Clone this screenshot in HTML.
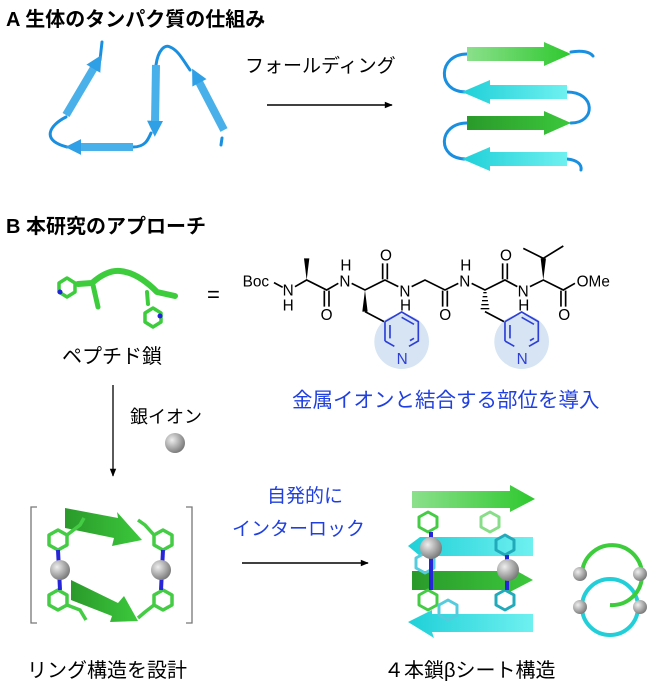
<!DOCTYPE html>
<html><head><meta charset="utf-8"><style>
html,body{margin:0;padding:0;background:#fff;}
svg{display:block;font-family:"Liberation Sans","Noto Sans CJK JP",sans-serif;}
</style></head><body>
<svg width="650" height="683" viewBox="0 0 650 683" xmlns="http://www.w3.org/2000/svg">
<defs>
<linearGradient id="gG" x1="0" x2="1"><stop offset="0" stop-color="#8be08b"/><stop offset="1" stop-color="#2ec82e"/></linearGradient>
<linearGradient id="gC" x1="0" x2="1"><stop offset="0" stop-color="#1fd0d8"/><stop offset="1" stop-color="#6ff0f0"/></linearGradient>
<linearGradient id="gD" x1="0" x2="1"><stop offset="0" stop-color="#2a9a2a"/><stop offset="1" stop-color="#3cc83c"/></linearGradient>
<linearGradient id="gB" x1="0" x2="1"><stop offset="0" stop-color="#2f9fe6"/><stop offset="1" stop-color="#7fcdf2"/></linearGradient>
<radialGradient id="sp" cx="0.35" cy="0.35" r="0.7"><stop offset="0" stop-color="#eee"/><stop offset="1" stop-color="#777"/></radialGradient>
<marker id="bh" viewBox="0 0 10 10" refX="2" refY="5" markerWidth="2" markerHeight="2" orient="auto"><path d="M0,0 L10,5 L0,10 z" fill="#2f9fe6"/></marker>
<marker id="ah" viewBox="0 0 10 10" refX="9" refY="5" markerWidth="10" markerHeight="8" markerUnits="userSpaceOnUse" orient="auto"><path d="M0,1 L10,5 L0,9 z" fill="#000"/></marker>
</defs>

<text x="6" y="26" font-size="20" font-weight="bold">A 生体のタンパク質の仕組み</text>
<text x="6" y="233" font-size="20" font-weight="bold">B 本研究のアプローチ</text>

<g fill="none" stroke="#1a8fe0" stroke-width="3" stroke-linecap="round">
<path d="M66,117 C50,125 40,140 67,147"/>
<path d="M133,147 C145,147 148,140 151,133"/>
<path d="M156,65 C158,50 165,44 170,47 C178,50 183,60 190,70"/>
<path d="M100,60 L102,42"/>
<path d="M222,138 L221,145"/>
</g>
<g stroke="#4ab0ea" stroke-width="8" marker-end="url(#bh)">
<line x1="66" y1="115" x2="95" y2="66"/>
<line x1="133" y1="147" x2="78" y2="147"/>
<line x1="156" y1="65" x2="155" y2="124"/>
<line x1="224" y1="130" x2="198" y2="80"/>
</g>

<text x="245" y="72" font-size="19">フォールディング</text>
<line x1="267" y1="105" x2="392" y2="105" stroke="#000" stroke-width="1.5" marker-end="url(#ah)"/>

<g fill="none" stroke="#1a8fe0" stroke-width="3" stroke-linecap="round">
<path d="M467,54 C438,54 436,92 466,92"/>
<path d="M567,92 C596,92 596,123 571,123"/>
<path d="M467,123 C438,123 436,159 466,159"/>
<path d="M571,52 C582,50 590,52 593,56"/>
<path d="M567,159 C578,160 582,165 581,170"/>
</g>
<polygon points="467,47 544,47 544,42 571,54 544,66 544,61 467,61" fill="url(#gG)"/>
<polygon points="567,85 490,85 490,80 462,92 490,104 490,99 567,99" fill="url(#gC)"/>
<polygon points="467,116 544,116 544,111 571,123 544,135 544,130 467,130" fill="url(#gD)"/>
<polygon points="567,152 490,152 490,147 462,159 490,171 490,166 567,166" fill="url(#gC)"/>

<g fill="none" stroke="#3ccc3c" stroke-linecap="round" stroke-linejoin="round">
<path d="M78,284 L92,283 C100,276 110,270 120,271 C132,272 145,280 157,292 L175,296" stroke-width="6"/>
<path d="M93,285 L98,307" stroke-width="5"/>
<path d="M147,292 L148,304" stroke-width="4"/>
<polygon points="67,278 75,283 75,292 67,297 59,292 59,283" stroke-width="3.5"/>
<polygon points="153,308 161,313 161,322 153,327 145,322 145,313" stroke-width="3.5"/>
</g>
<circle cx="60" cy="292" r="2.5" fill="#2222dd"/><circle cx="160" cy="316" r="2.5" fill="#2222dd"/>
<text x="62" y="363" font-size="20">ペプチド鎖</text>
<text x="207" y="302" font-size="22">=</text>

<g transform="translate(230,240) scale(0.3333)">
<circle cx="515" cy="305" r="82" fill="#d6e4f3"/>
<circle cx="875" cy="305" r="82" fill="#d6e4f3"/>
<g stroke="#000" stroke-width="5" fill="none">
<path d="M132,128 L158,142"/>
<path d="M195,140 L230,120 L290,150 L325,130"/>
<path d="M365,130 L405,150 L465,120 L505,140"/>
<path d="M545,140 L585,120 L645,150 L685,130"/>
<path d="M725,130 L765,150 L825,120 L862,140"/>
<path d="M900,140 L940,120 L1000,150 L1035,130"/>
<path d="M283,152 L283,200 M297,152 L297,200"/>
<path d="M458,118 L458,70 M472,118 L472,70"/>
<path d="M638,152 L638,200 M652,152 L652,200"/>
<path d="M818,118 L818,70 M832,118 L832,70"/>
<path d="M993,152 L993,200 M1007,152 L1007,200"/>
<path d="M940,55 L880,25 M940,55 L1000,18"/>
<path d="M405,215 L462,245"/>
<path d="M765,215 L822,245"/>
</g>
<polygon points="230,120 222,55 238,55" fill="#000"/>
<polygon points="405,150 397,215 413,215" fill="#000"/>
<polygon points="940,120 932,55 948,55" fill="#000"/>
<g stroke="#000" stroke-width="4">
<line x1="760" y1="158" x2="770" y2="158"/><line x1="758" y1="170" x2="772" y2="170"/><line x1="756" y1="182" x2="774" y2="182"/><line x1="754" y1="194" x2="776" y2="194"/><line x1="752" y1="206" x2="778" y2="206"/>
</g>
<g stroke="#2d3fd8" stroke-width="5" fill="none">
<path d="M465,245 L515,216 L565,245 L565,303 L537,319 M493,319 L465,303 Z M465,245 L465,303"/>
<path d="M480,255 L480,295 M515,232 L552,253 M552,295 L540,302"/>
<path d="M825,245 L875,216 L925,245 L925,303 L897,319 M853,319 L825,303 M825,245 L825,303"/>
<path d="M840,255 L840,295 M875,232 L912,253 M912,295 L900,302"/>
</g>
<g font-size="46" fill="#000">
<text x="38" y="140">Boc</text>
<text x="158" y="167">N</text><text x="158" y="212">H</text>
<text x="328" y="139">N</text><text x="331" y="92">H</text>
<text x="508" y="169">N</text><text x="510" y="212">H</text>
<text x="688" y="139">N</text><text x="691" y="92">H</text>
<text x="863" y="169">N</text><text x="865" y="212">H</text>
<text x="272" y="240">O</text><text x="450" y="62">O</text><text x="628" y="240">O</text><text x="810" y="62">O</text><text x="985" y="240">O</text>
<text x="1040" y="140">OMe</text>
</g>
<text x="500" y="372" font-size="46" fill="#2d3fd8">N</text>
<text x="860" y="372" font-size="46" fill="#2d3fd8">N</text>
</g>
<text x="292" y="407" font-size="20.5" fill="#1f3fe0">金属イオンと結合する部位を導入</text>

<line x1="113" y1="385" x2="113" y2="476" stroke="#000" stroke-width="1.3" marker-end="url(#ah)"/>
<text x="130" y="423" font-size="18">銀イオン</text>
<circle cx="175" cy="443" r="10" fill="url(#sp)"/>

<path d="M37,507 L31,507 L31,623 L37,623 M186,507 L192,507 L192,623 L186,623" fill="none" stroke="#777" stroke-width="1.3"/>
<polygon points="65,508 118,518 117,512 142,540 112,546 114,538 65,528" fill="url(#gD)"/>
<polygon points="71,580 71,600 112,616 110,622 138,621 124,596 118,603" fill="url(#gD)"/>
<g fill="none" stroke="#44cc44" stroke-width="3.5" stroke-linejoin="round">
<polygon points="58,530 67,535 67,545 58,550 49,545 49,535"/>
<polygon points="58,590 67,595 67,605 58,610 49,605 49,595"/>
<polygon points="163,530 172,535 172,545 163,550 154,545 154,535"/>
<polygon points="163,590 172,595 172,605 163,610 154,605 154,595"/>
<path d="M67,535 L80,525 L84,518 M67,605 L80,610 L86,620 M154,535 L145,525 L138,520 M154,605 L145,612 L138,618"/>
</g>
<g stroke="#2626d8" stroke-width="4"><line x1="58" y1="550" x2="60" y2="590"/><line x1="163" y1="550" x2="161" y2="590"/></g>
<circle cx="60" cy="570" r="10" fill="url(#sp)"/>
<circle cx="161" cy="570" r="10" fill="url(#sp)"/>
<text x="27" y="677" font-size="20">リング構造を設計</text>

<text x="267" y="502" font-size="19" fill="#1f3fe0">自発的に</text>
<text x="232" y="535" font-size="19" fill="#1f3fe0">インターロック</text>
<line x1="242" y1="563" x2="368" y2="563" stroke="#000" stroke-width="1.5" marker-end="url(#ah)"/>

<polygon points="412,491 510,491 510,485 535,499 510,512 510,508 412,508" fill="url(#gG)"/>
<polygon points="533,537 533,556 420,556 408,546 420,537" fill="url(#gC)"/>
<polygon points="412,571 508,571 508,566 533,580 508,593 508,590 412,590" fill="url(#gD)"/>
<polygon points="533,614 533,632 432,632 434,638 408,622 432,610 432,614" fill="url(#gC)"/>
<g fill="none" stroke-width="3" stroke-linejoin="round">
<polygon points="428,512 437,517 437,527 428,532 419,527 419,517" stroke="#44cc44"/>
<polygon points="428,590 437,595 437,605 428,610 419,605 419,595" stroke="#44cc44"/>
<polygon points="490,512 499,517 499,527 490,532 481,527 481,517" stroke="#88dd88"/>
<polygon points="505,535 514,540 514,550 505,555 496,550 496,540" stroke="#22aabb"/>
<polygon points="505,590 514,595 514,605 505,610 496,605 496,595" stroke="#22aabb"/>
<polygon points="448,600 457,605 457,615 448,620 439,615 439,605" stroke="#55ccdd"/>
<polygon points="425,553 434,558 434,568 425,573 416,568 416,558" stroke="#55ccdd"/>
</g>
<g stroke="#2626d8" stroke-width="4"><line x1="431" y1="532" x2="431" y2="590"/><line x1="507" y1="555" x2="507" y2="590"/></g>
<circle cx="431" cy="548" r="11" fill="url(#sp)"/>
<circle cx="508" cy="570" r="11" fill="url(#sp)"/>

<circle cx="610" cy="607" r="28" fill="none" stroke="#22cfd8" stroke-width="4"/>
<path d="M582,575 A30,30 0 1 1 610,605" fill="none" stroke="#3ccc3c" stroke-width="4"/>
<circle cx="580" cy="574" r="7" fill="url(#sp)"/><circle cx="640" cy="574" r="7" fill="url(#sp)"/>
<circle cx="580" cy="607" r="7" fill="url(#sp)"/><circle cx="640" cy="607" r="7" fill="url(#sp)"/>

<text x="384" y="677" font-size="20">４本鎖βシート構造</text>
</svg>
</body></html>
